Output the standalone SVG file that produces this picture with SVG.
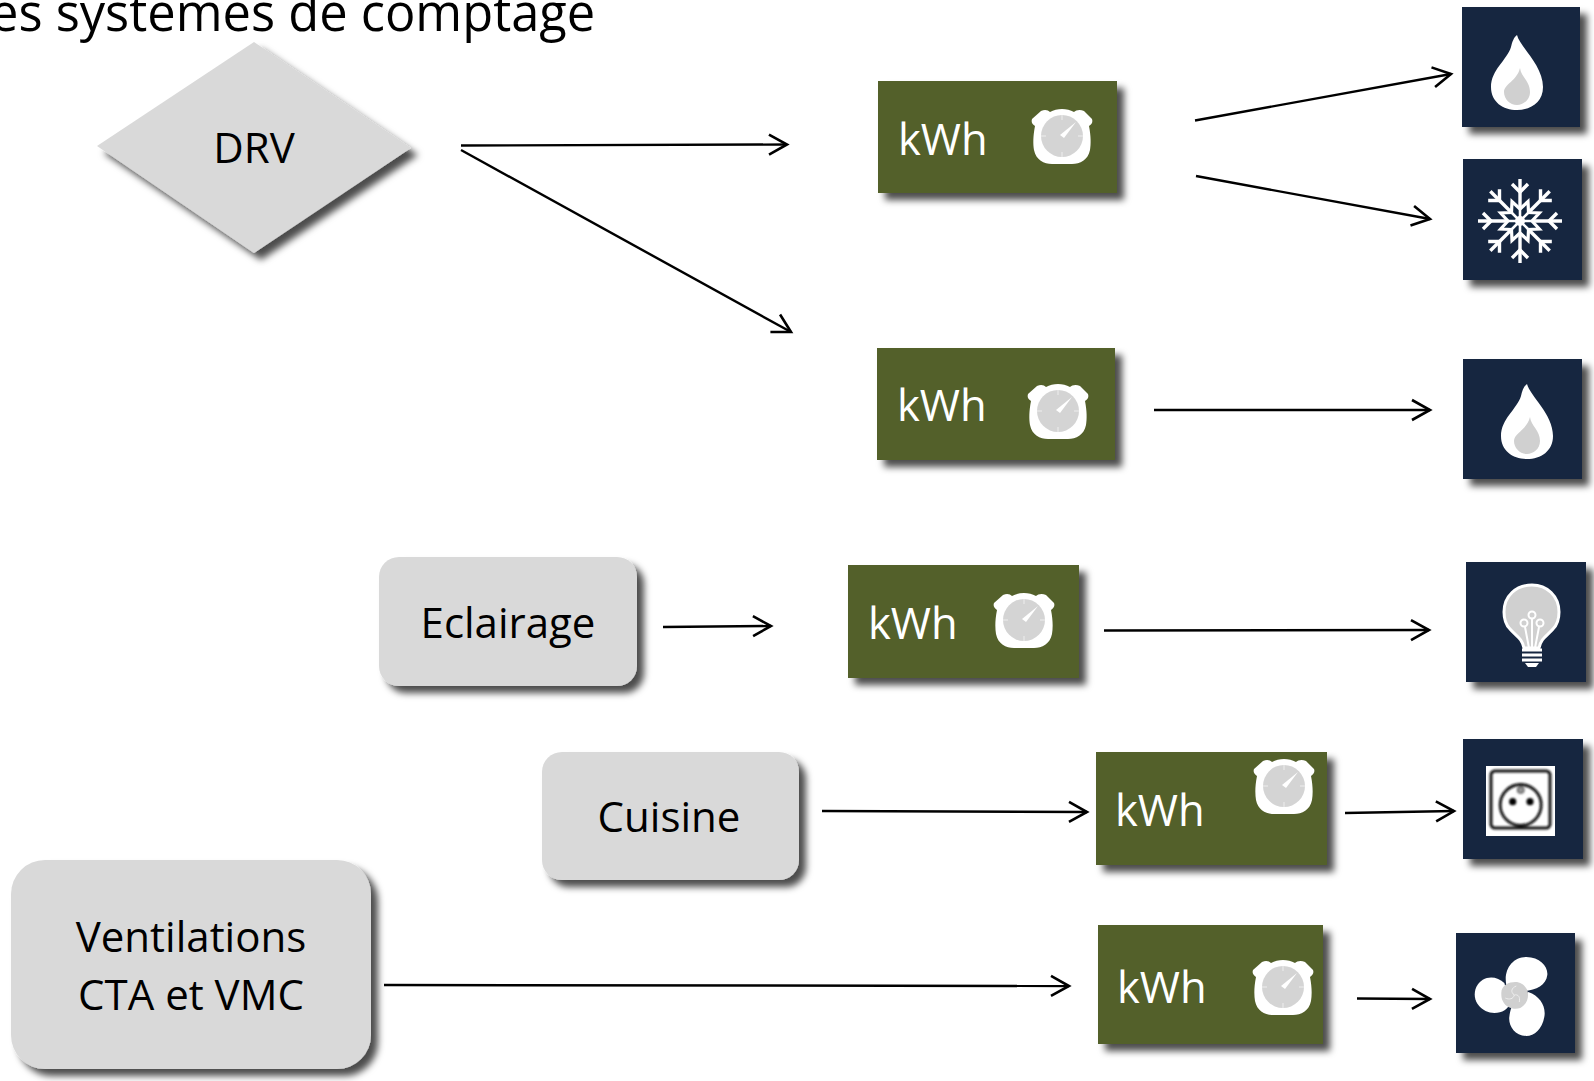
<svg xmlns="http://www.w3.org/2000/svg" width="1594" height="1081" viewBox="0 0 1594 1081">
<style>
text{font-family:"Open Sans","Noto Sans","Liberation Sans",sans-serif}
.lbl{font-size:42px;fill:#000;text-anchor:middle}
.kwh{font-size:43.5px;fill:#fff}
.title{font-size:50.6px;fill:#000}
.gray{fill:#d9d9d9}
.green{fill:#52612a}
.navy{fill:#12263f}
.shad{filter:url(#sh)}
.conn line{stroke:#000;stroke-width:2.4;marker-end:url(#arr);fill:none}
</style>
<defs>
<filter id="sh" x="-15%" y="-15%" width="130%" height="130%"><feDropShadow dx="7" dy="7" stdDeviation="3.5" flood-color="#000" flood-opacity="0.7"/></filter>
<filter id="bl" x="-10%" y="-10%" width="120%" height="120%"><feGaussianBlur stdDeviation="0.8"/></filter>
<marker id="arr" markerUnits="userSpaceOnUse" markerWidth="26" markerHeight="26" refX="21" refY="13" orient="auto"><path d="M3,3 L21,13 L3,23" fill="none" stroke="#000" stroke-width="2.6"/></marker>
<g id="watch">
<path d="M-21,-25 C-17,-27 -14,-26 -12,-24 C-5,-28 5,-28 12,-24 C14,-26 18,-27 22,-25 L30,-17 C31,-14 30,-12 27,-10 C29,0 29,8 28,14 C26,24 18,28 10,28 L-10,28 C-18,28 -26,24 -28,14 C-29,8 -29,0 -27,-10 C-30,-12 -31,-14 -30,-17Z" fill="#fff"/>
<circle cx="0" cy="0" r="21" fill="#d4d4d4"/>
<path d="M0,-21 V-16 M21,0 H16 M0,21 V16 M-21,0 H-16" stroke="#eee" stroke-width="1" fill="none"/>
<path d="M-2,-1 L14,-14 L2,2Z" fill="#fff"/>
</g>
<g id="flame">
<path d="M0,0 C3,12 26,30 26,52 C26,67 14,75 0,75 C-14,75 -26,67 -26,52 C-26,35 -10,25 -6,12 C-5,7 -3,2 0,0Z" fill="#fff"/>
<path d="M3,33 C4,42 13,46 13,57 C13,65 6,70 0,70 C-7,70 -13,64 -13,57 C-13,49 0,46 3,33Z" fill="#d0d0d0"/>
</g>
<g id="arm" fill="none" stroke="#fff" stroke-width="3.4">
<path d="M0,0 L0,-42"/><path d="M-8,-37 L0,-29 L8,-37"/>
</g>
</defs>

<g id="title"><text class="title" x="-10" y="31">es systemes de comptage</text></g>

<g id="drv"><polygon class="gray shad" points="97,146 254,42 411,148 254,253"/><text class="lbl" x="254" y="163">DRV</text></g>
<g id="eclairage"><rect class="gray shad" x="379" y="557" width="258" height="129" rx="20"/><text class="lbl" x="508" y="638">Eclairage</text></g>
<g id="cuisine"><rect class="gray shad" x="542" y="752" width="257" height="128" rx="20"/><text class="lbl" x="669" y="832">Cuisine</text></g>
<g id="ventilations"><rect class="gray shad" x="11" y="860" width="360" height="209" rx="34"/><text class="lbl" x="191" y="952">Ventilations</text><text class="lbl" x="191" y="1010">CTA et VMC</text></g>

<g id="kwh1"><rect class="green shad" x="878" y="81" width="239" height="112"/><text class="kwh" x="898" y="155">kWh</text><use href="#watch" x="1062" y="136"/></g>
<g id="kwh2"><rect class="green shad" x="877" y="348" width="238" height="112"/><text class="kwh" x="897" y="421">kWh</text><use href="#watch" x="1058" y="411"/></g>
<g id="kwh3"><rect class="green shad" x="848" y="565" width="231" height="113"/><text class="kwh" x="868" y="639">kWh</text><use href="#watch" x="1024" y="620"/></g>
<g id="kwh4"><rect class="green shad" x="1096" y="752" width="231" height="113"/><text class="kwh" x="1115" y="826">kWh</text><use href="#watch" x="1284" y="786"/></g>
<g id="kwh5"><rect class="green shad" x="1098" y="925" width="225" height="119"/><text class="kwh" x="1117" y="1003">kWh</text><use href="#watch" x="1283" y="987"/></g>

<g id="gas1"><rect class="navy shad" x="1462" y="7" width="118" height="120"/><use href="#flame" x="1517" y="35"/></g>
<g id="cold"><rect class="navy shad" x="1463" y="159" width="119" height="121"/>
<g transform="translate(1520,221)">
<use href="#arm"/><use href="#arm" transform="rotate(45)"/><use href="#arm" transform="rotate(90)"/><use href="#arm" transform="rotate(135)"/><use href="#arm" transform="rotate(180)"/><use href="#arm" transform="rotate(225)"/><use href="#arm" transform="rotate(270)"/><use href="#arm" transform="rotate(315)"/>
<path d="M8,-19.4 L8.5,-8.5 L19.4,-8 L12,0 L19.4,8 L8.5,8.5 L8,19.4 L0,12 L-8,19.4 L-8.5,8.5 L-19.4,8 L-12,0 L-19.4,-8 L-8.5,-8.5 L-8,-19.4 L0,-12Z" fill="#12263f" stroke="#fff" stroke-width="3.2"/>
<path d="M0,-12 V12 M-12,0 H12 M-8,-8 L8,8 M-8,8 L8,-8" stroke="#fff" stroke-width="2.6" fill="none"/>
<circle r="5" fill="#fff"/>
</g></g>
<g id="gas2"><rect class="navy shad" x="1463" y="359" width="119" height="120"/><use href="#flame" x="1527" y="384"/></g>
<g id="light"><rect class="navy shad" x="1466" y="562" width="120" height="120"/>
<path d="M1524,648 C1522,638 1516,636 1510,629 C1505,624 1504,618 1504,612 C1504,596 1516,585 1532,585 C1547,585 1559,596 1559,612 C1559,618 1558,624 1553,629 C1547,636 1541,638 1539,648Z" fill="#d0d0d0" stroke="#fff" stroke-width="3"/>
<g fill="none" stroke="#fff" stroke-width="2"><circle cx="1532" cy="615" r="3.5"/><circle cx="1524" cy="623" r="3.5"/><circle cx="1540" cy="623" r="3.5"/><path d="M1529,648 L1525,627 M1532,648 L1532,619 M1535,648 L1539,627"/></g>
<path d="M1522,650 h20 M1522,655 h20 M1522,660 h20" stroke="#fff" stroke-width="3" fill="none"/><path d="M1525,663 h14 l-3,4 h-8z" fill="#fff"/>
</g>
<g id="socket"><rect class="navy shad" x="1463" y="739" width="120" height="120"/><rect x="1486" y="766" width="69" height="70" fill="#fff"/>
<g filter="url(#bl)"><rect x="1491" y="771" width="59" height="57" rx="4" fill="none" stroke="#111" stroke-width="3"/><circle cx="1520.7" cy="805" r="20.5" fill="none" stroke="#111" stroke-width="2.8"/><circle cx="1512.7" cy="801.7" r="3.6" fill="#000"/><circle cx="1530" cy="801.7" r="3.6" fill="#000"/><circle cx="1520.7" cy="790" r="3.2" fill="#999" stroke="#444" stroke-width="1.2"/></g></g>
<g id="fan"><rect class="navy shad" x="1456" y="933" width="119" height="120"/>
<g transform="translate(1514.3,995)">
<path d="M-8,-10 C-11,-25 -2,-38 12,-38 C26,-38 34,-28 33,-20 C32,-10 22,-5 10,-4Z" fill="#fff"/>
<path d="M-10,-12 C-18,-20 -32,-20 -38,-8 C-44,6 -32,18 -20,18 C-12,18 -6,14 -4,8Z" fill="#fff"/>
<path d="M14,-3 C26,1 32,12 30,22 C28,34 20,41 12,41 C0,41 -6,30 -5,22 C-4,14 -2,10 0,8Z" fill="#fff"/>
<path d="M-13,-2 C-13,-10 -5,-13 1,-13 C7,-13 11,-9 13,-5 C15,2 13,9 6,13 C0,15 -8,13 -11,7 C-13,4 -13,1 -13,-2Z" fill="#d0d0d0"/>
<path d="M0,0 C-4,-3 -3,-7 2,-9 M0,0 C4,-1 6,2 5,7 M0,0 C-1,4 -5,5 -9,3" stroke="#eee" stroke-width="1" fill="none"/>
</g></g>

<g id="connectors" class="conn">
<line x1="461" y1="145.500" x2="787" y2="144.500"/>
<line x1="461" y1="150" x2="791" y2="332"/>
<line x1="1195" y1="120.500" x2="1451" y2="74"/>
<line x1="1196" y1="176" x2="1430" y2="219"/>
<line x1="1154" y1="410" x2="1430" y2="410"/>
<line x1="663" y1="627" x2="771" y2="626"/>
<line x1="1104" y1="630.500" x2="1429" y2="630"/>
<line x1="822" y1="811" x2="1087" y2="812"/>
<line x1="1345" y1="813" x2="1454" y2="811"/>
<line x1="384" y1="985" x2="1069" y2="986"/>
<line x1="1357" y1="998.500" x2="1430" y2="999"/>
</g>
</svg>
